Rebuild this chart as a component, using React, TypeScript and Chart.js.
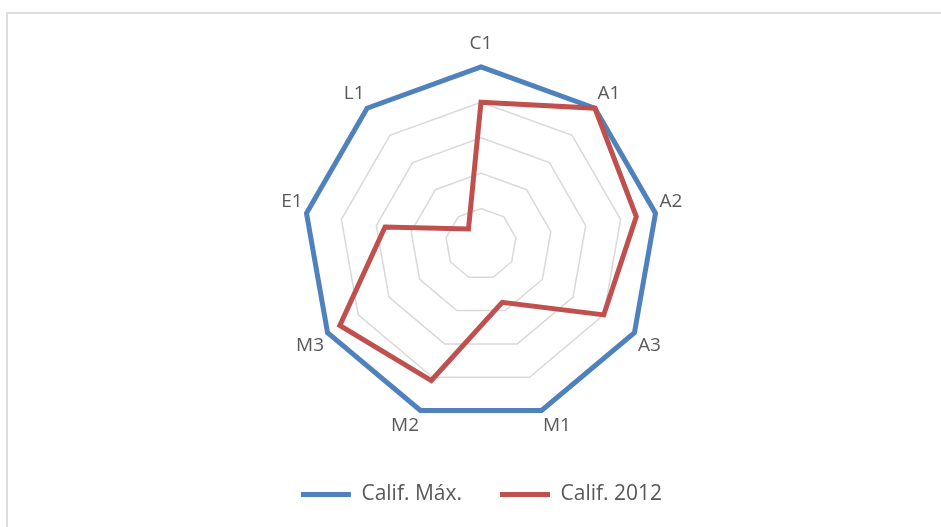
import React, { useEffect, useRef } from 'react';
import { Chart, registerables } from 'chart.js';

Chart.register(...registerables);

// Axis categories, clockwise from the top
const categories = ['C1', 'A1', 'A2', 'A3', 'M1', 'M2', 'M3', 'E1', 'L1'];

// Series values (score scale 0–100)
const maxScores = [100, 100, 100, 100, 100, 100, 100, 100, 100];
const scores2012 = [80, 100, 89, 80, 35, 82, 92, 55, 11];

const seriesNames = ['Calif. Máx.', 'Calif. 2012'];

// Radial scale range and ring spacing
const scaleMin = 0;
const scaleMax = 100;
const ringStep = 20;

const BLUE = '#4F81BD';
const RED = '#C0504D';
const TEXT = '#595959';
const GRID = '#D9D9D9';
const FONT = "'Open Sans', 'Liberation Sans', sans-serif";

export default function App() {
  const canvasRef = useRef<HTMLCanvasElement>(null);

  useEffect(() => {
    const canvas = canvasRef.current;
    if (!canvas) return;
    const chart = new Chart(canvas, {
      type: 'radar',
      data: {
        labels: categories,
        datasets: [
          {
            label: seriesNames[0],
            data: maxScores,
            borderColor: BLUE,
            backgroundColor: BLUE,
            borderWidth: 5,
            borderJoinStyle: 'miter',
            borderCapStyle: 'round',
            fill: false,
            pointRadius: 0,
            pointHoverRadius: 0,
            order: 1,
          },
          {
            label: seriesNames[1],
            data: scores2012,
            borderColor: RED,
            backgroundColor: RED,
            borderWidth: 5,
            borderJoinStyle: 'miter',
            borderCapStyle: 'round',
            fill: false,
            pointRadius: 0,
            pointHoverRadius: 0,
            order: 0,
          },
        ],
      },
      options: {
        animation: false,
        responsive: false,
        maintainAspectRatio: false,
        layout: { padding: { left: 22, right: 0, top: 22, bottom: 12 } },
        elements: { line: { tension: 0 } },
        scales: {
          r: {
            min: scaleMin,
            max: scaleMax,
            beginAtZero: true,
            ticks: { display: false, stepSize: ringStep },
            grid: { color: GRID, lineWidth: 1.5 },
            angleLines: { display: false },
            pointLabels: {
              color: TEXT,
              font: { family: FONT, size: 19 },
              padding: (ctx: any) => (ctx.index === 0 ? 12 : 4),
            },
          },
        },
        plugins: {
          tooltip: { enabled: false },
          legend: {
            position: 'bottom',
            labels: {
              color: TEXT,
              font: { family: FONT, size: 21 },
              usePointStyle: true,
              pointStyle: 'line',
              pointStyleWidth: 50,
              padding: 38,
              sort: (a: any, b: any) => a.datasetIndex - b.datasetIndex,
            },
          },
        },
      },
    });
    return () => chart.destroy();
  }, []);

  return (
    <div
      style={{
        position: 'fixed',
        left: 0,
        top: 0,
        width: 941,
        height: 527,
        background: '#ffffff',
        overflow: 'hidden',
      }}
    >
      <div
        style={{
          position: 'absolute',
          left: 6,
          top: 12,
          width: 980,
          height: 580,
          border: '2px solid #dcdcdc',
          boxSizing: 'border-box',
        }}
      />
      <canvas
        ref={canvasRef}
        width={941}
        height={527}
        style={{ position: 'absolute', left: 0, top: 0, width: 941, height: 527 }}
      />
    </div>
  );
}
